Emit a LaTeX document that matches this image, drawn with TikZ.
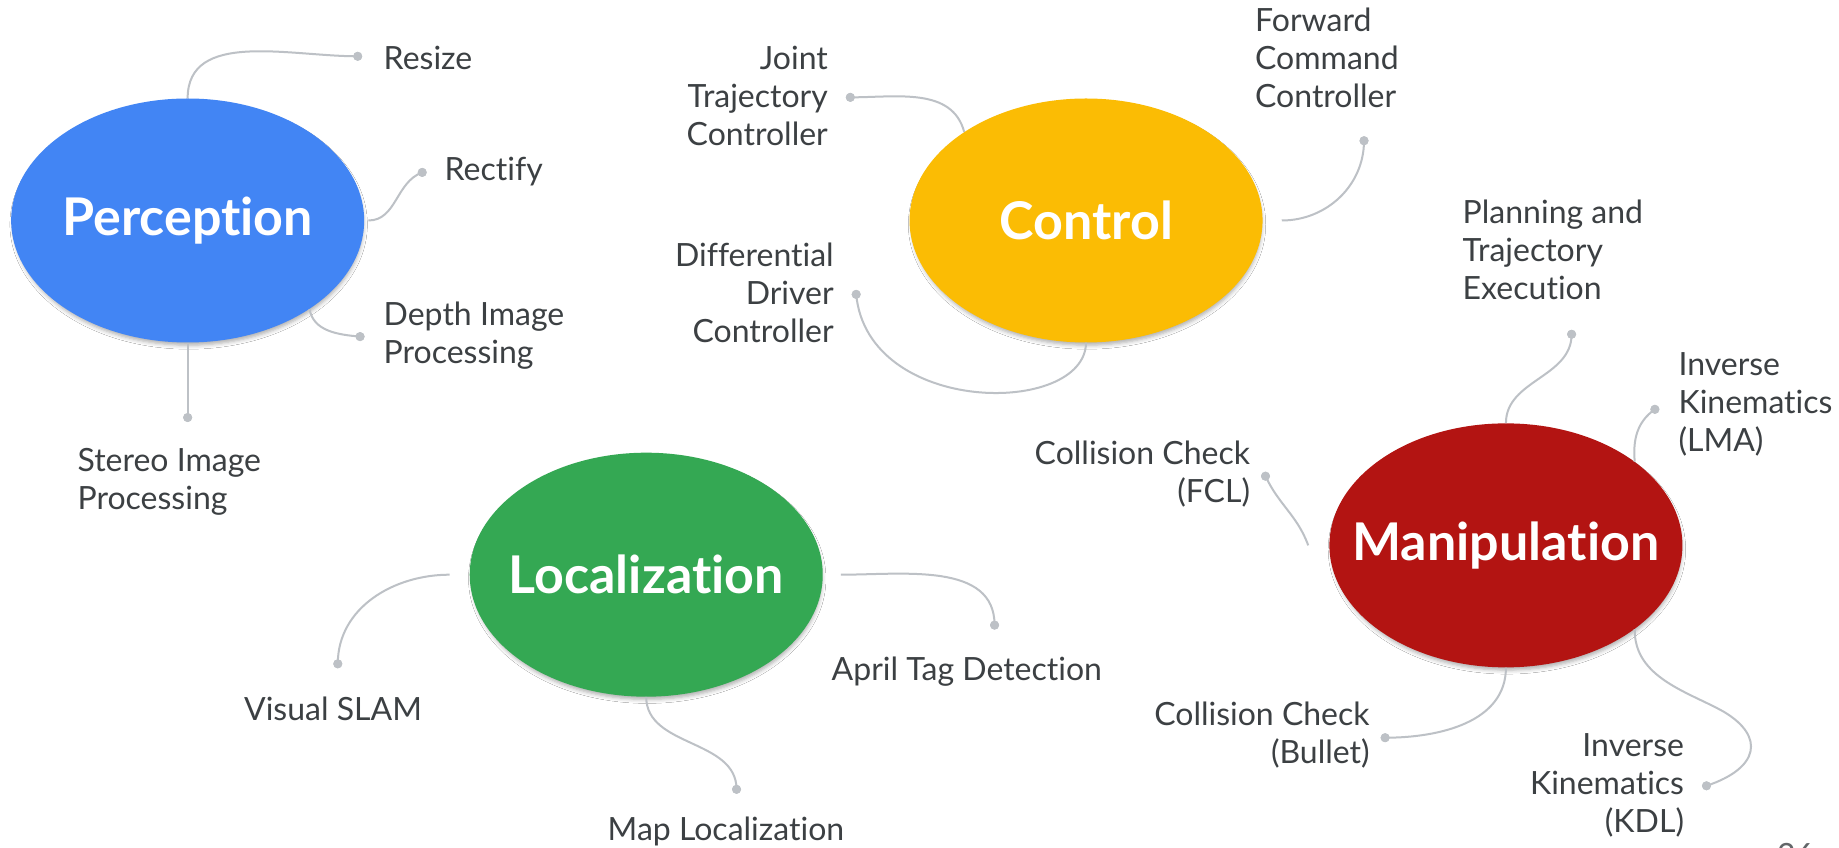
\documentclass[tikz,border=0pt]{standalone}
\usepackage{fontspec}
\setmainfont{Lato}[Ligatures={NoCommon}]
\usetikzlibrary{shapes.geometric,shadows.blur}
\definecolor{gblue}{HTML}{4285F4}
\definecolor{gyellow}{HTML}{FBBC04}
\definecolor{ggreen}{HTML}{34A853}
\definecolor{gred}{HTML}{B31412}
\definecolor{ink}{HTML}{3C4043}
\definecolor{wiregray}{HTML}{BDC1C6}
\newcommand{\hubtext}[1]{\makebox[0pt]{#1}}
\begin{document}
\begin{tikzpicture}[x=1.1728pt,y=-1.1728pt,
  hub/.style={ellipse, minimum width=353pt, minimum height=244pt, inner sep=0pt,
    text=white, font=\fontsize{52}{56}\selectfont\bfseries,
    blur shadow={shadow scale=0.99, shadow xshift=1pt, shadow yshift=-4pt,
      shadow blur radius=4pt, shadow opacity=32}},
  leaf/.style={inner sep=0pt, text=ink, font=\fontsize{32}{38}\selectfont},
  dot/.style={circle, fill=wiregray, inner sep=0pt, minimum size=9pt},
  link/.style={draw=wiregray, line width=2pt}
]
\useasboundingbox (0,0) rectangle (1568,723);
\clip (0,0) rectangle (1568,723);
\fill[white] (0,0) rectangle (1568,723);

% hubs
\node[hub, fill=gblue]   (perc) at (160,188)  {\hubtext{Perception}};
\node[hub, fill=gyellow] (ctrl) at (926,188)  {\hubtext{Control}};
\node[hub, fill=ggreen]  (loc)  at (551,490)  {\hubtext{Localization}};
\node[hub, fill=gred]    (man)  at (1284,465) {\hubtext{Manipulation}};

% end dots
\node[dot] (d-resize)  at (305,48)   {};
\node[dot] (d-rect)    at (360,147)  {};
\node[dot] (d-depth)   at (307,287)  {};
\node[dot] (d-stereo)  at (160,356)  {};
\node[dot] (d-joint)   at (725,83)   {};
\node[dot] (d-fwd)     at (1163,120) {};
\node[dot] (d-diff)    at (730,251)  {};
\node[dot] (d-plan)    at (1340,285) {};
\node[dot] (d-lma)     at (1411,349) {};
\node[dot] (d-fcl)     at (1079,406) {};
\node[dot] (d-bullet)  at (1181,629) {};
\node[dot] (d-kdl)     at (1455,670) {};
\node[dot] (d-slam)    at (288,566)  {};
\node[dot] (d-april)   at (848,533)  {};
\node[dot] (d-map)     at (628,673)  {};

% connectors
\path[link] (perc.north) to[out=90,in=180] (d-resize.center);
\path[link] ([xshift=4pt]perc.east) to[out=0,in=200] (d-rect.center);
\path[link] (perc.-36) to[out=-80,in=175] (d-depth.center);
\path[link] (perc.south) -- (d-stereo.center);
\path[link] (d-joint.center) to[out=0,in=105] (ctrl.144);
\path[link] (d-fwd.center) to[out=-90,in=0] ([xshift=19pt]ctrl.east);
\path[link] (d-diff.center) .. controls (740,355) and (925,355) .. (ctrl.south);
\path[link] (man.north) to[out=90,in=-90] (d-plan.center);
\path[link] (man.33) to[out=95,in=-145] (d-lma.center);
\path[link] (d-fcl.center) to[out=-65,in=110] ([xshift=-21pt]man.west);
\path[link] (man.south) to[out=-90,in=0] (d-bullet.center);
\path[link] (man.-33) .. controls (1393,578) and (1440,590) .. (1470,607)
   .. controls (1505,628) and (1500,655) .. (d-kdl.center);
\path[link] ([xshift=-20pt]loc.west) to[out=180,in=90] (d-slam.center);
\path[link] ([xshift=18pt]loc.east) to[out=0,in=90] (d-april.center);
\path[link] (loc.south) to[out=-90,in=90] (d-map.center);

% dots on top of the line ends
\foreach \d in {d-resize,d-rect,d-depth,d-stereo,d-joint,d-fwd,d-diff,d-plan,d-lma,d-fcl,d-bullet,d-kdl,d-slam,d-april,d-map}
  \fill[wiregray] (\d) circle (4.5pt);

% labels
\node[leaf, anchor=west] (t-resize) at (327,49)  {Resize};
\node[leaf, anchor=west] (t-rect)   at (379,146) {Rectify};
\node[leaf, anchor=west, align=left] (t-depth) at (327,286) {Depth Image\\Processing};
\node[leaf, anchor=west, align=left] (t-stereo) at (66,411) {Stereo Image\\Processing};
\node[leaf, anchor=east, align=right] (t-joint) at (706,82) {Joint\\Trajectory\\Controller};
\node[leaf, anchor=west, align=left] (t-fwd) at (1070,49) {Forward\\Command\\Controller};
\node[leaf, anchor=east, align=right] (t-diff) at (711,250) {Differential\\Driver\\Controller};
\node[leaf, anchor=west, align=left] (t-plan) at (1247,213) {Planning and\\Trajectory\\Execution};
\node[leaf, anchor=west, align=left] (t-lma) at (1431,345) {Inverse\\Kinematics\\(LMA)};
\node[leaf, anchor=east, align=right] (t-fcl) at (1066,404) {Collision Check\\(FCL)};
\node[leaf, anchor=east, align=right] (t-bullet) at (1168,627) {Collision Check\\(Bullet)};
\node[leaf, anchor=east, align=right] (t-kdl) at (1436,670) {Inverse\\Kinematics\\(KDL)};
\node[leaf, anchor=west] (t-slam)  at (208,604) {Visual SLAM};
\node[leaf, anchor=west] (t-april) at (709,573) {April Tag Detection};
\node[leaf, anchor=west] (t-map)   at (518,709) {Map Localization};
\node[leaf, anchor=west, text=ink!80] (pageno) at (1515,729) {26};
\end{tikzpicture}
\end{document}
